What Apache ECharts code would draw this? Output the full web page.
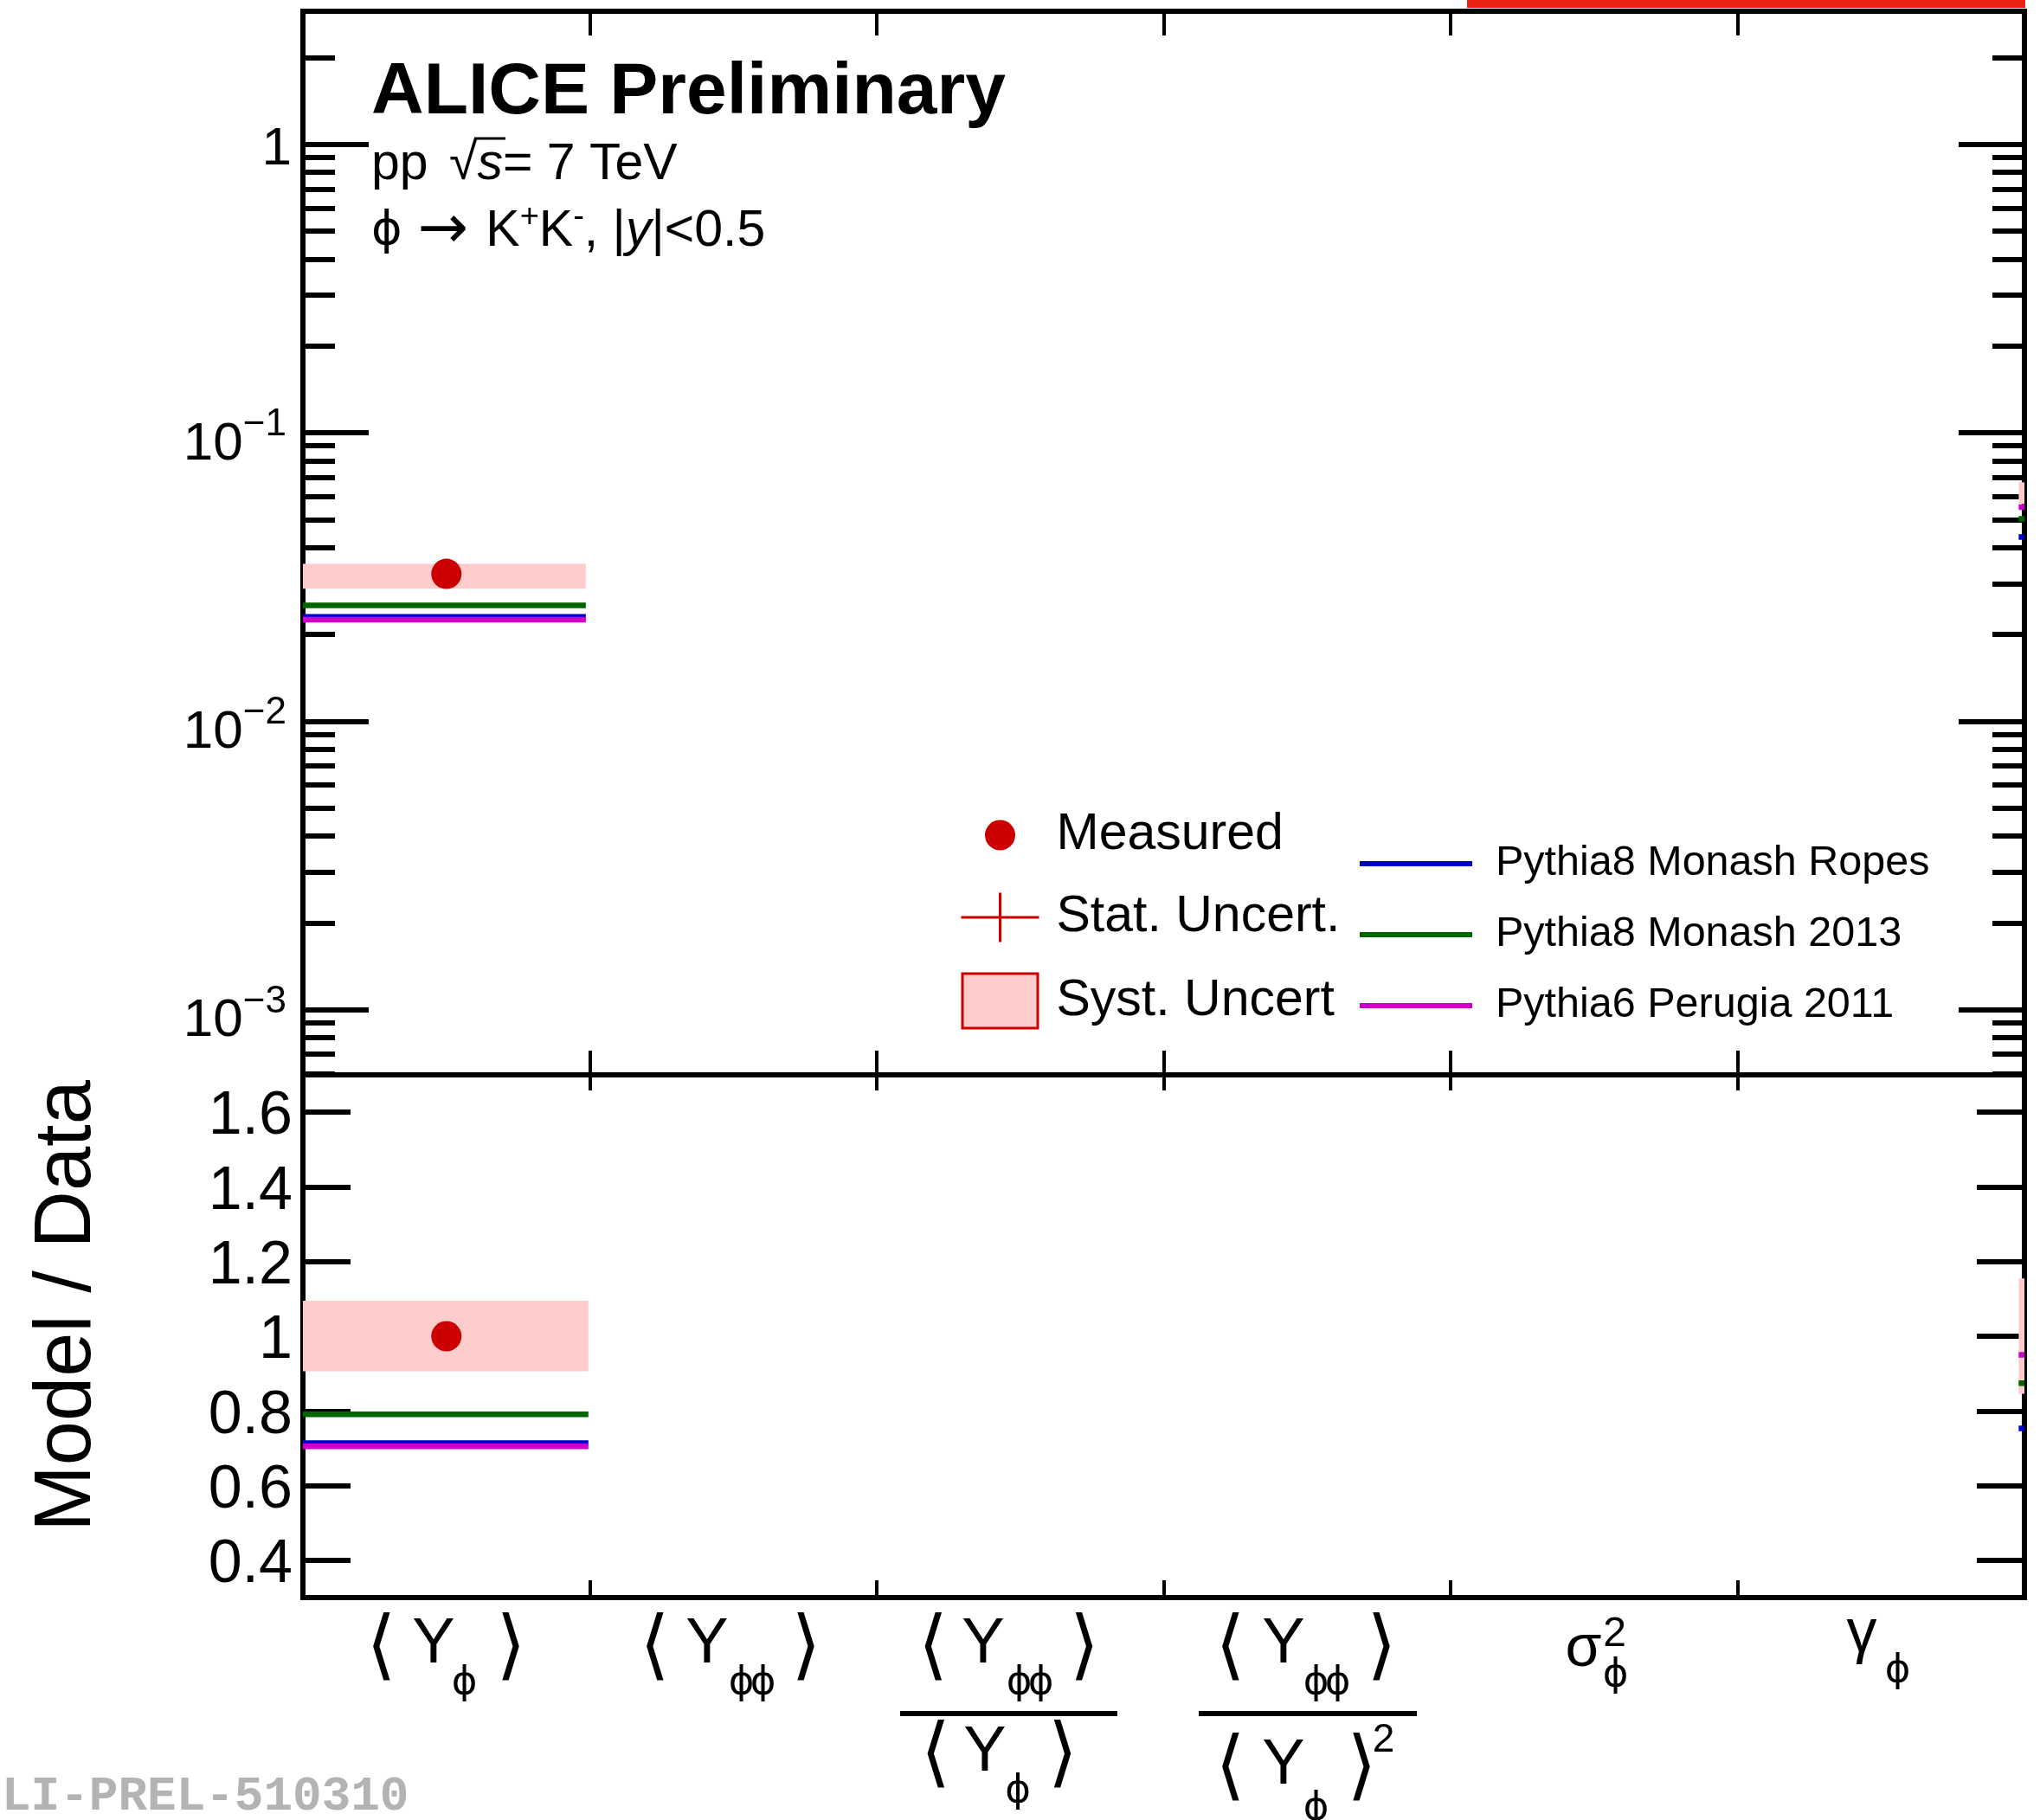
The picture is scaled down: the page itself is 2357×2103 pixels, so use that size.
<!DOCTYPE html>
<html><head><meta charset="utf-8">
<script src="https://cdn.jsdelivr.net/npm/echarts@6/dist/echarts.min.js"></script>
<style>html,body{margin:0;padding:0;background:#fff}#c{width:2357px;height:2103px}</style>
</head><body><div id="c"></div>
<script>
// ================= DATA =================
const categories = ['⟨Yϕ⟩', '⟨Yϕϕ⟩', '⟨Yϕϕ⟩/⟨Yϕ⟩', '⟨Yϕϕ⟩/⟨Yϕ⟩²', 'σ²ϕ', 'γϕ'];
const yieldTickValues = [0.001, 0.01, 0.1, 1];
const yieldTickLabels = ['10^−3', '10^−2', '10^−1', '1'];
const ratioTickValues = [0.4, 0.6, 0.8, 1.0, 1.2, 1.4, 1.6];
const ratioTickLabels = ['0.4', '0.6', '0.8', '1', '1.2', '1.4', '1.6'];

const measuredBin = [0];
const measuredYield = [0.0324];
const measuredYieldStat = [0.0004];
const measuredYieldSystLow = [0.0288];
const measuredYieldSystHigh = [0.0351];
const measuredRatio = [1.0];
const measuredRatioStat = [0.012];
const measuredRatioSystLow = [0.906];
const measuredRatioSystHigh = [1.095];

const modelNames = ['Pythia8 Monash Ropes', 'Pythia8 Monash 2013', 'Pythia6 Perugia 2011'];
const modelYield = [[0.0230], [0.0252], [0.0225]];
const modelRatio = [[0.714], [0.791], [0.705]];

// marks of the next bin that show just at the right frame edge
const edgeYieldSyst = [0.0566, 0.0673];
const edgeRatioSyst = [0.846, 1.155];
const edgeModelYield = [0.0435, 0.0503, 0.0552];
const edgeModelRatio = [0.753, 0.874, 0.950];

// ================= STYLE / LAYOUT =================
const LS = 'Liberation Sans', DJ = 'DejaVu Sans';
const GL = 350, GR = 2339, T0 = 13, MID = 1242, B1 = 1846;
const YMIN = 5.94e-4, YMAX = 2.891, RMIN = 0.3, RMAX = 1.7;
const BIN_END_TOP = 0.986, BIN_END_BOT = 0.995, EDGE_X0 = 5.98;
const modelColors = ['#0000cc', '#006600', '#cc00cc'];
const drawOrder = [1, 0, 2];
const RED = '#cc0000', PINK = '#ffcccc';

const yieldMinorTicks = [];
for (let e = -4; e <= 0; e++) for (let m = 2; m <= 9; m++) {
  const v = +(m * Math.pow(10, e)).toPrecision(3);
  if (v > YMIN && v < YMAX) yieldMinorTicks.push(v);
}

// ---- x label typography (ink centres: dx from bin centre, absolute y) ----
const INK = {br: -0.055, cap: -0.082, phi: -0.01, sig: 0.011, gam: 0.121};
const PH = 45;
const g = (t, font, fs, kind, dx, y) => ({t, font, fs, kind, dx, y});
const phis = (dx, y, two) => two ? [g('ϕ', DJ, PH, 'phi', dx - 12.5, y), g('ϕ', DJ, PH, 'phi', dx + 12.5, y)]
                                 : [g('ϕ', DJ, PH, 'phi', dx, y)];
const num = (d, two) => [g('⟨', DJ, 88, 'br', d[0], 1902.5), g('Y', LS, 74, 'cap', d[1], 1895)]
  .concat(phis(d[2], 1944.5, two)).concat([g('⟩', DJ, 88, 'br', d[3], 1902.5)]);
const xLabelLayout = [
  [{top: 1854, lh: 130, glyphs: num([-75.25, -14.75, 20.75, 74.75], false)}],
  [{top: 1854, lh: 130, glyphs: num([-90.75, -30.25, 21.75, 84.25], true)}],
  [{top: 1854, lh: 123, glyphs: num([-100.75, -42.75, 11.25, 74.25], true)},
   {top: 1977, lh: 6, bar: {dx: -13.25, w: 251}},
   {top: 1983, lh: 110, glyphs: [g('⟨', DJ, 88, 'br', -97.75, 2026), g('Y', LS, 74, 'cap', -40.75, 2019.5)]
     .concat(phis(-2.75, 2070, false)).concat([g('⟩', DJ, 88, 'br', 49.25, 2026)])}],
  [{top: 1854, lh: 123, glyphs: num([-88.75, -27.25, 22.75, 86.25], true)},
   {top: 1977, lh: 6, bar: {dx: 0.75, w: 252}},
   {top: 1983, lh: 110, glyphs: [g('⟨', DJ, 88, 'br', -88.75, 2041.5), g('Y', LS, 74, 'cap', -27.25, 2034.5)]
     .concat(phis(10.25, 2090, false)).concat([g('⟩', DJ, 88, 'br', 63.25, 2041.5), g('2', LS, 46, 'cap', 88.25, 2008)])}],
  [{top: 1854, lh: 130, glyphs: [g('σ', LS, 68, 'sig', -12.25, 1906.5), g('2', LS, 48, 'cap', 23.75, 1884.5)]
     .concat(phis(24.75, 1936, false))}],
  [{top: 1854, lh: 130, glyphs: [g('γ', LS, 70, 'gam', -22.25, 1897)].concat(phis(19.25, 1931, false))}]
];
const HW = 150;
const xRich = {};
const xLabelStrings = xLabelLayout.map((lines, ci) => lines.map((ln, li) => {
  const base = {width: 0, lineHeight: ln.lh, verticalAlign: 'top', align: 'center', color: '#000'};
  if (ln.bar) {
    const a = `p${ci}_${li}a`, b = `b${ci}_${li}`, c = `p${ci}_${li}c`;
    xRich[a] = Object.assign({}, base, {fontSize: 6, padding: [0, 0, 0, ln.bar.dx - ln.bar.w / 2 + HW]});
    xRich[b] = Object.assign({}, base, {fontSize: 6, width: ln.bar.w, height: 6, backgroundColor: '#000'});
    xRich[c] = Object.assign({}, base, {fontSize: 6, padding: [0, 0, 0, HW - ln.bar.dx - ln.bar.w / 2]});
    return `{${a}| }{${b}| }{${c}| }`;
  }
  let s = '', cur = -HW;
  const gl = ln.glyphs.slice().sort((p, q) => p.dx - q.dx);
  gl.forEach((G, k) => {
    const nm = `g${ci}_${li}_${k}`;
    const pt = G.y - INK[G.kind] * G.fs - ln.top - G.fs / 2;
    xRich[nm] = Object.assign({}, base, {fontFamily: G.font, fontSize: G.fs, padding: [pt, 0, 0, G.dx - cur]});
    cur = G.dx;
    s += `{${nm}|${G.t}}`;
  });
  const f = `f${ci}_${li}`;
  xRich[f] = Object.assign({}, base, {fontSize: 10, padding: [0, 0, 0, HW - cur]});
  return s + `{${f}| }`;
}).join('\n'));

// ---- y labels ----
function nearest(vals, v, log) {
  let best = 0, bd = Infinity;
  vals.forEach((t, i) => { const d = log ? Math.abs(Math.log10(t) - Math.log10(v)) : Math.abs(t - v); if (d < bd) { bd = d; best = i; } });
  return best;
}
const yRich = {
  o: {fontFamily: LS, fontSize: 62, color: '#000', padding: [13, 0, 0, 0]},
  b: {fontFamily: LS, fontSize: 62, color: '#000', padding: [27, 0, 0, 0]},
  e: {fontFamily: LS, fontSize: 44, color: '#000', padding: [0, 6, 18, 0]}
};
function fmtYield(v) {
  const s = yieldTickLabels[nearest(yieldTickValues, v, true)];
  if (s.indexOf('^') >= 0) { const p = s.split('^'); return `{b|${p[0]}}{e|${p[1]}}`; }
  return `{o|${s}}`;
}
const rRich = {v: {fontFamily: LS, fontSize: 70, color: '#000', padding: [12, 0, 0, 0]}};
const fmtRatio = v => `{v|${ratioTickLabels[nearest(ratioTickValues, v, false)]}}`;

// ---- axes ----
function catAxis(grid, pos, len, labels) {
  return {type: 'category', gridIndex: grid, position: pos, data: categories, boundaryGap: true,
    axisLine: {show: false}, splitLine: {show: false},
    axisTick: {show: true, inside: true, length: len, interval: 0, lineStyle: {color: '#000', width: 4}},
    axisLabel: labels ? {show: true, interval: 0, margin: 8, color: '#000', hideOverlap: false,
      formatter: (v, i) => xLabelStrings[i], rich: xRich} : {show: false}};
}
const hiddenX = grid => ({type: 'value', gridIndex: grid, min: 0, max: categories.length, show: false});
function logY(pos, vals, len, labels) {
  return {type: 'log', logBase: 10, gridIndex: 0, position: pos, min: YMIN, max: YMAX,
    axisLine: {show: false}, splitLine: {show: false}, minorTick: {show: false}, minorSplitLine: {show: false},
    axisTick: {show: true, inside: true, length: len, customValues: vals, lineStyle: {color: '#000', width: 6}},
    axisLabel: labels ? {show: true, customValues: yieldTickValues, margin: 13, color: '#000',
      formatter: fmtYield, rich: yRich} : {show: false}};
}
function ratioY(pos, labels) {
  const ax = {type: 'value', gridIndex: 1, position: pos, min: RMIN, max: RMAX,
    axisLine: {show: false}, splitLine: {show: false},
    axisTick: {show: true, inside: true, length: 55, customValues: ratioTickValues, lineStyle: {color: '#000', width: 6}},
    axisLabel: labels ? {show: true, customValues: ratioTickValues, margin: 12, color: '#000',
      formatter: fmtRatio, rich: rRich} : {show: false}};
  if (labels) Object.assign(ax, {name: 'Model / Data', nameLocation: 'middle', nameRotate: 90, nameGap: 225,
    nameTextStyle: {fontFamily: LS, fontSize: 92, color: '#000', padding: [0, 0, 0, 70]}});
  return ax;
}

// ---- series ----
function bandRender(params, api) {
  const p0 = api.coord([api.value(0), api.value(3)]);
  const p1 = api.coord([api.value(1), api.value(2)]);
  return {type: 'rect', shape: {x: p0[0], y: p0[1], width: p1[0] - p0[0], height: p1[1] - p0[1]}, style: {fill: PINK}};
}
function statRender(params, api) {
  const a = api.coord([api.value(0), api.value(1) - api.value(2)]);
  const b = api.coord([api.value(0), api.value(1) + api.value(2)]);
  return {type: 'line', shape: {x1: a[0], y1: a[1], x2: b[0], y2: b[1]}, style: {stroke: RED, lineWidth: 3}};
}
function panelSeries(xi, yi, binEnd, val, stat, lo, hi, models, edgeSyst, edgeModels) {
  const s = [];
  s.push({type: 'custom', name: 'Syst. Uncert', xAxisIndex: xi, yAxisIndex: yi, color: PINK, silent: true,
    itemStyle: {opacity: 1},
    dimensions: ['x0', 'x1', 'lo', 'hi'], encode: {x: ['x0', 'x1'], y: ['lo', 'hi']}, renderItem: bandRender,
    data: measuredBin.map((b, i) => [b, b + binEnd, lo[i], hi[i]]).concat([[EDGE_X0, categories.length, edgeSyst[0], edgeSyst[1]]])});
  drawOrder.forEach(m => {
    s.push({type: 'line', name: modelNames[m], xAxisIndex: xi, yAxisIndex: yi, symbol: 'none', silent: true,
      color: modelColors[m], lineStyle: {width: 6.5, color: modelColors[m], opacity: 1},
      data: [[0, models[m][0]], [binEnd, models[m][0]], [binEnd, '-'], [EDGE_X0, edgeModels[m]], [categories.length, edgeModels[m]]]});
  });
  s.push({type: 'custom', name: 'Stat. Uncert.', xAxisIndex: xi, yAxisIndex: yi, color: RED, silent: true,
    itemStyle: {opacity: 1},
    dimensions: ['x', 'v', 'e'], encode: {x: 'x', y: 'v'}, renderItem: statRender,
    data: measuredBin.map((b, i) => [b + 0.5, val[i], stat[i]])});
  s.push({type: 'scatter', name: 'Measured', xAxisIndex: xi, yAxisIndex: yi, symbol: 'circle', symbolSize: 35,
    color: RED, itemStyle: {color: RED, opacity: 1}, silent: true,
    data: measuredBin.map((b, i) => [b + 0.5, val[i]])});
  return s;
}
const series = [].concat(
  panelSeries(2, 0, BIN_END_TOP, measuredYield, measuredYieldStat, measuredYieldSystLow, measuredYieldSystHigh, modelYield, edgeYieldSyst, edgeModelYield),
  panelSeries(5, 4, BIN_END_BOT, measuredRatio, measuredRatioStat, measuredRatioSystLow, measuredRatioSystHigh, modelRatio, edgeRatioSyst, edgeModelRatio)
);

// ---- legend icons (105x66 / 152x50 frames) ----
const circleIcon = 'path://M0,0M105,66M27.5,33A17.5,17.5,0,1,1,62.5,33A17.5,17.5,0,1,1,27.5,33Z';
const crossIcon = 'path://M0,0M105,66M43.5,4.5L46.5,4.5L46.5,61.5L43.5,61.5ZM0,31.5L90,31.5L90,34.5L0,34.5Z';
const boxIcon = 'path://M0,0M105,66M1.5,1.5L88.5,1.5L88.5,64.5L1.5,64.5Z';
const lineIcon = 'path://M0,0M152,50M0,22L130,22L130,28L0,28Z';

const option = {
  animation: false,
  backgroundColor: '#fff',
  textStyle: {fontFamily: LS},
  grid: [
    {left: GL, top: T0, width: GR - GL, height: MID - T0, show: true, borderColor: '#000', borderWidth: 6,
      backgroundColor: 'transparent', containLabel: false, outerBoundsMode: 'none'},
    {left: GL, top: MID, width: GR - GL, height: B1 - MID, show: true, borderColor: '#000', borderWidth: 6,
      backgroundColor: 'transparent', containLabel: false, outerBoundsMode: 'none'}
  ],
  xAxis: [catAxis(0, 'bottom', 28, false), catAxis(0, 'top', 28, false), hiddenX(0),
          catAxis(1, 'bottom', 20, true), catAxis(1, 'top', 18, false), hiddenX(1)],
  yAxis: [logY('left', yieldTickValues, 76, true), logY('left', yieldMinorTicks, 37, false),
          logY('right', yieldTickValues, 76, false), logY('right', yieldMinorTicks, 37, false),
          ratioY('left', true), ratioY('right', false)],
  legend: [
    {orient: 'vertical', left: 1109, top: 932, padding: 0, itemWidth: 105, itemHeight: 66, itemGap: 29,
      selectedMode: false, textStyle: {fontFamily: LS, fontSize: 59, color: '#000', padding: [10, 0, 0, 0]},
      data: [{name: 'Measured', icon: circleIcon, itemStyle: {borderWidth: 0, opacity: 1}},
             {name: 'Stat. Uncert.', icon: crossIcon, itemStyle: {borderWidth: 0, opacity: 1}},
             {name: 'Syst. Uncert', icon: boxIcon, itemStyle: {borderColor: RED, borderWidth: 3, opacity: 1}}]},
    {orient: 'vertical', left: 1571, top: 973, padding: 0, itemWidth: 152, itemHeight: 50, itemGap: 32,
      selectedMode: false, textStyle: {fontFamily: LS, fontSize: 48.5, color: '#000', padding: [8, 0, 0, 0]},
      data: modelNames.map(n => ({name: n, icon: lineIcon, itemStyle: {borderWidth: 0, opacity: 1}}))}
  ],
  graphic: [
    {type: 'rect', shape: {x: 1695, y: 0, width: 645, height: 9}, style: {fill: '#ee2211'}, z: 10},
    {type: 'text', x: 429, y: 107.5, z: 10, style: {text: 'ALICE Preliminary', fontFamily: LS, fontSize: 84,
      fontWeight: 'bold', fill: '#000', align: 'left', verticalAlign: 'middle', textAlign: 'left', textVerticalAlign: 'middle'}},
    {type: 'text', x: 429, y: 191, z: 10, style: {text: '{n|pp }{r|√}{i|s}{n|= 7 TeV}', fill: '#000',
      align: 'left', verticalAlign: 'middle', textAlign: 'left', textVerticalAlign: 'middle',
      rich: {n: {fontFamily: LS, fontSize: 59, lineHeight: 80, fill: '#000'},
             r: {fontFamily: LS, fontSize: 59, lineHeight: 80, fill: '#000', padding: [0, 0, 0, 8]},
             i: {fontFamily: LS, fontSize: 59, lineHeight: 80, fill: '#000', fontStyle: 'italic'}}}},
    {type: 'line', z: 10, shape: {x1: 548, y1: 160, x2: 584, y2: 160}, style: {stroke: '#000', lineWidth: 3}},
    {type: 'text', x: 429, y: 268, z: 10, style: {text: '{p|ϕ}{a|→}{n|K}{u|+}{n|K}{u|-}{n|, |}{i|y}{n||<0.5}', fill: '#000',
      align: 'left', verticalAlign: 'middle', textAlign: 'left', textVerticalAlign: 'middle',
      rich: {n: {fontFamily: LS, fontSize: 59, lineHeight: 80, fill: '#000'},
             p: {fontFamily: DJ, fontSize: 54, lineHeight: 80, fill: '#000', padding: [0, 0, 0, 0]},
             a: {fontFamily: DJ, fontSize: 70, lineHeight: 80, fill: '#000', padding: [0, 20, 0, 18]},
             u: {fontFamily: LS, fontSize: 38, lineHeight: 80, fill: '#000', padding: [0, 0, 32, 0]},
             i: {fontFamily: LS, fontSize: 59, lineHeight: 80, fill: '#000', fontStyle: 'italic'}}}},
    {type: 'text', x: 2, y: 2077, z: 10, style: {text: 'LI-PREL-510310', fontFamily: 'Liberation Mono', fontSize: 56,
      fontWeight: 'bold', fill: '#b3b3b3', align: 'left', verticalAlign: 'middle', textAlign: 'left', textVerticalAlign: 'middle'}}
  ],
  series: series
};
const chart = echarts.init(document.getElementById('c'), null, {renderer: 'canvas'});
chart.setOption(option);
</script></body></html>
